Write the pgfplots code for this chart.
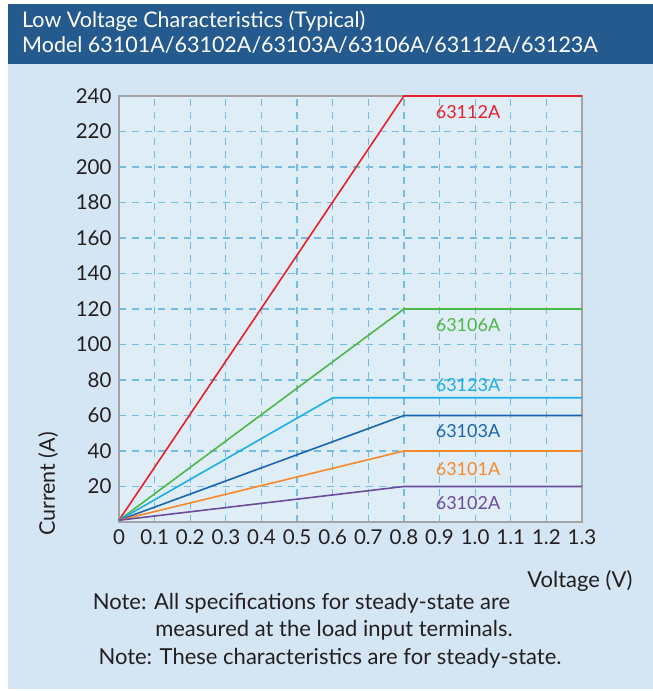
\documentclass[border=0pt]{standalone}
\usepackage{pgfplots}
\pgfplotsset{compat=1.18}
\usepackage{fontspec}
\setmainfont{Lato}
\definecolor{banner}{HTML}{255A8F}
\definecolor{bgblue}{HTML}{D4E6F4}
\definecolor{plotbg}{HTML}{DFEDF7}
\definecolor{gridblue}{HTML}{74BCE0}
\definecolor{frame}{HTML}{A2A4A6}
\definecolor{txt}{HTML}{231F20}
\definecolor{cRed}{HTML}{E8202A}
\definecolor{cGreen}{HTML}{4DB848}
\definecolor{cCyan}{HTML}{1BAEE9}
\definecolor{cBlue}{HTML}{1B65B0}
\definecolor{cOrange}{HTML}{F7892B}
\definecolor{cPurple}{HTML}{6A4C9C}
\begin{document}
\begin{tikzpicture}[x=1pt,y=1pt]
\fill[white] (0,0) rectangle (653,691);
\fill[bgblue] (8,2) rectangle (653,628);
\fill[banner] (8,627) rectangle (653,687);
\node[anchor=base west, text=white, font=\fontsize{21.5}{24}\selectfont, inner sep=0pt] at (22,663) {Low Voltage Characteristics (Typical)};
\node[anchor=base west, text=white, font=\fontsize{21.5}{24}\selectfont, inner sep=0pt] at (22,638) {Model 63101A/63102A/63103A/63106A/63112A/63123A};
\begin{axis}[
  at={(119pt,169pt)}, anchor=south west,
  width=463pt, height=426pt, scale only axis,
  xmin=0, xmax=1.3, ymin=0, ymax=240,
  clip=false,
  axis background/.style={fill=plotbg},
  axis line style={draw=frame, line width=1.5pt},
  xtick={0,0.1,0.2,0.3,0.4,0.5,0.6,0.7,0.8,0.9,1.0,1.1,1.2,1.3},
  xticklabels={0,0.1,0.2,0.3,0.4,0.5,0.6,0.7,0.8,0.9,1.0,1.1,1.2,1.3},
  ytick={20,40,60,80,100,120,140,160,180,200,220,240},
  /pgf/number format/assume math mode=true,
  tick style={draw=none},
  ticklabel style={font=\fontsize{20.5}{24}\selectfont, text=txt},
  xticklabel style={yshift=-4pt},
  yticklabel style={xshift=-4pt},
  grid=major,
  major grid style={draw=gridblue, line width=1.3pt, dash pattern=on 7pt off 6pt},
]
\addplot[cRed, line width=1.6pt] coordinates {(0,1) (0.8,240) (1.3,240)};
\addplot[cGreen, line width=1.6pt] coordinates {(0,1) (0.8,120) (1.3,120)};
\addplot[cCyan, line width=1.6pt] coordinates {(0,1) (0.6,70) (1.3,70)};
\addplot[cBlue, line width=1.6pt] coordinates {(0,1) (0.8,60) (1.3,60)};
\addplot[cOrange, line width=1.6pt] coordinates {(0,1) (0.8,40) (1.3,40)};
\addplot[cPurple, line width=1.6pt] coordinates {(0,1) (0.8,20) (1.3,20)};
\node[text=cRed, font=\fontsize{18}{22}\selectfont] at (axis cs:0.98,231) {63112A};
\node[text=cGreen, font=\fontsize{18}{22}\selectfont] at (axis cs:0.98,111) {63106A};
\node[text=cCyan, font=\fontsize{18}{22}\selectfont] at (axis cs:0.98,77) {63123A};
\node[text=cBlue, font=\fontsize{18}{22}\selectfont] at (axis cs:0.98,51.5) {63103A};
\node[text=cOrange, font=\fontsize{18}{22}\selectfont] at (axis cs:0.98,30) {63101A};
\node[text=cPurple, font=\fontsize{18}{22}\selectfont] at (axis cs:0.98,10.5) {63102A};
\end{axis}
\node[rotate=90, font=\fontsize{21.5}{24}\selectfont, text=txt] at (48,207) {Current (A)};
\node[anchor=base, font=\fontsize{22}{24}\selectfont, text=txt] at (580,103) {Voltage (V)};
\node[anchor=base, font=\fontsize{22}{24}\selectfont, text=txt] at (301.5,81) {Note: All specifications for steady-state are};
\node[anchor=base, font=\fontsize{22}{24}\selectfont, text=txt] at (334,54) {measured at the load input terminals.};
\node[anchor=base, font=\fontsize{22}{24}\selectfont, text=txt] at (330,27) {Note: These characteristics are for steady-state.};
\end{tikzpicture}
\end{document}
